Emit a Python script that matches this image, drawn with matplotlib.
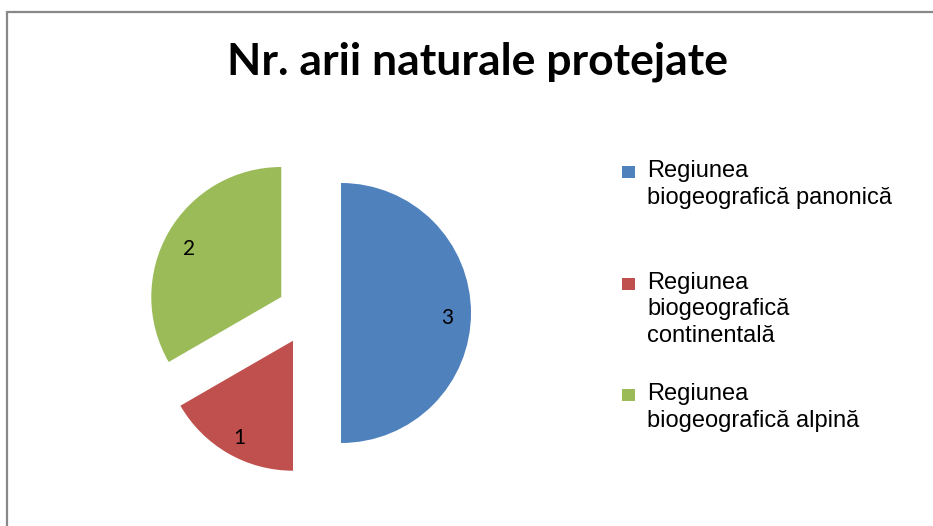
import matplotlib
matplotlib.use('Agg')
import matplotlib.pyplot as plt
from matplotlib.patches import Rectangle

W, H = 933, 526

title = 'Nr. arii naturale protejate'
regions = ['Regiunea\nbiogeografică panonică',
           'Regiunea\nbiogeografică\ncontinentală',
           'Regiunea\nbiogeografică alpină']
counts = [3, 1, 2]
colors = ['#4f81bd', '#c0504d', '#9bbb59']

fig = plt.figure(figsize=(W / 100, H / 100), dpi=100)
fig.patch.set_facecolor('white')

# axes in pixel units, y measured upward
ax = fig.add_axes([0, 0, 1, 1])
wedges, texts, autotexts = ax.pie(
    counts, colors=colors, startangle=90, counterclock=False,
    explode=[32] * len(counts), radius=130, center=(309, H - 313),
    autopct=lambda p: '%d' % round(p * sum(counts) / 100.0),
    pctdistance=0.82, wedgeprops=dict(linewidth=0),
    textprops=dict(fontsize=15, family='Lato', color='black'))
for t in autotexts:
    x, y = t.get_position()
    t.set_position((x, y - 5))
ax.set_xlim(0, W)
ax.set_ylim(0, H)
ax.set_aspect('auto')
ax.axis('off')

# chart area frame
fig.patches.append(Rectangle((7.5 / W, -0.1), 1.2, (H - 11.5) / H + 0.1,
                             transform=fig.transFigure, fill=False,
                             edgecolor='#888888', linewidth=1.6))

fig.text(478 / W, 1 - 62 / H, title, ha='center', va='center',
         fontsize=32, fontweight='bold', family='Lato')

# legend
y0 = 172
for i, (lab, c) in enumerate(zip(regions, colors)):
    y = y0 + i * 111.5
    fig.patches.append(Rectangle((622 / W, 1 - (y + 6) / H), 13 / W, 12 / H,
                                 transform=fig.transFigure, facecolor=c,
                                 edgecolor='none'))
    fig.text(647 / W, 1 - (y - 12) / H, lab, ha='left', va='top',
             fontsize=17, family='Liberation Sans', linespacing=1.27)

fig.savefig('out.png', dpi=100)
